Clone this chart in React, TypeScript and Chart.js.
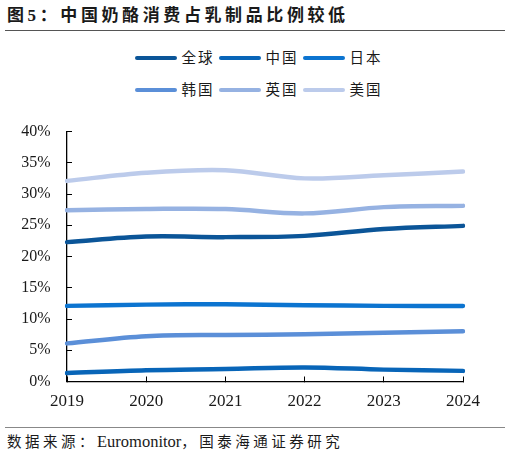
import React, { useEffect, useRef } from "react";
import Chart from "chart.js/auto";

const years = ["2019", "2020", "2021", "2022", "2023", "2024"];
const seriesNames = ["全球", "中国", "日本", "韩国", "英国", "美国"];
const globalShare = [22.3, 23.2, 23.1, 23.3, 24.4, 24.9];
const chinaShare = [1.35, 1.8, 2.0, 2.25, 1.9, 1.7];
const japanShare = [12.1, 12.3, 12.35, 12.2, 12.1, 12.1];
const koreaShare = [6.1, 7.25, 7.45, 7.55, 7.8, 8.05];
const ukShare = [27.4, 27.6, 27.6, 26.9, 27.9, 28.1];
const usShare = [32.1, 33.4, 33.8, 32.5, 33.0, 33.6];
const seriesColors = ["#0b5598", "#0865b8", "#0c74d0", "#5b8fd8", "#96b2e2", "#bccbeb"];
const yTickValues = [0, 5, 10, 15, 20, 25, 30, 35, 40];

const allSeries = [globalShare, chinaShare, japanShare, koreaShare, ukShare, usShare];

const serif = '"Liberation Serif", "Times New Roman", serif';
const cjk = '"Liberation Serif", "Noto Sans CJK SC", sans-serif';

function ShareChart() {
  const canvasRef = useRef<HTMLCanvasElement | null>(null);

  useEffect(() => {
    if (!canvasRef.current) return;
    const chart = new Chart(canvasRef.current, {
      type: "line",
      data: {
        labels: years,
        datasets: allSeries.map((values, i) => ({
          label: seriesNames[i],
          data: values,
          borderColor: seriesColors[i],
          backgroundColor: seriesColors[i],
          borderWidth: 4.5,
          pointRadius: 0,
          tension: 0.35,
          borderCapStyle: "round" as const,
        })),
      },
      options: {
        responsive: true,
        maintainAspectRatio: false,
        animation: false,
        layout: { padding: { top: 21.5, right: 47, left: 0, bottom: 0 } },
        plugins: {
          legend: { display: false },
          tooltip: { enabled: false },
        },
        scales: {
          x: {
            offset: false,
            grid: {
              drawOnChartArea: false,
              tickLength: -5,
              color: "#000",
              lineWidth: 1,
            },
            border: { color: "#000", width: 1.3 },
            ticks: {
              padding: 15,
              color: "#1a1a1a",
              font: { family: serif, size: 17 },
              maxRotation: 0,
            },
            afterFit: (scale) => {
              scale.height = 33.5;
            },
          },
          y: {
            min: 0,
            max: 40,
            afterBuildTicks: (scale) => {
              scale.ticks = yTickValues.map((value) => ({ value }));
            },
            grid: {
              drawOnChartArea: false,
              tickLength: -5,
              color: "#000",
              lineWidth: 1,
            },
            border: { color: "#000", width: 1.3 },
            ticks: {
              padding: 21.5,
              color: "#1a1a1a",
              font: { family: serif, size: 16 },
              callback: (value) => `${value}%`,
            },
            afterFit: (scale) => {
              // tick padding would otherwise push the plot area down
              scale.width = 67;
              scale.paddingTop = 0;
              scale.paddingBottom = 0;
            },
          },
        },
      },
    });

    return () => {
      chart.destroy();
    };
  }, []);

  return (
    <div style={{ position: "absolute", left: 0, top: 110, width: 510, height: 305 }}>
      <canvas ref={canvasRef} />
    </div>
  );
}

export default function App() {
  const legendRows = [seriesNames.slice(0, 3), seriesNames.slice(3)];

  return (
    <div
      style={{
        position: "absolute",
        left: 0,
        top: 0,
        width: 510,
        height: 454,
        background: "#fff",
        fontFamily: cjk,
        color: "#1a1a1a",
      }}
    >
      <div
        style={{
          position: "absolute",
          left: 7,
          top: 5,
          fontSize: 17,
          lineHeight: "22px",
          fontWeight: "bold",
          letterSpacing: 3.6,
          whiteSpace: "nowrap",
        }}
      >
        图5：中国奶酪消费占乳制品比例较低
      </div>
      <div style={{ position: "absolute", left: 5, top: 30, width: 500, height: 1, background: "#555" }} />

      <div
        style={{
          position: "absolute",
          left: 3,
          top: 48,
          width: 510,
          display: "flex",
          flexDirection: "column",
          alignItems: "center",
          rowGap: 12,
        }}
      >
        {legendRows.map((row, r) => (
          <div key={r} style={{ display: "flex", columnGap: 5, height: 20 }}>
            {row.map((name, j) => (
              <div
                key={name}
                style={{ display: "flex", alignItems: "center", width: 79, flexShrink: 0, whiteSpace: "nowrap" }}
              >
                <span
                  style={{
                    display: "inline-block",
                    flexShrink: 0,
                    width: 42,
                    height: 4,
                    borderRadius: 2,
                    background: seriesColors[r * 3 + j],
                    marginRight: 5,
                  }}
                />
                <span style={{ fontSize: 14.5, letterSpacing: 2, lineHeight: "20px", whiteSpace: "nowrap" }}>
                  {name}
                </span>
              </div>
            ))}
          </div>
        ))}
      </div>

      <ShareChart />

      <div style={{ position: "absolute", left: 5, top: 427, width: 500, height: 1, background: "#888" }} />
      <div
        style={{
          position: "absolute",
          left: 7,
          top: 432,
          fontSize: 14.5,
          lineHeight: "20px",
          whiteSpace: "nowrap",
        }}
      >
        <span style={{ letterSpacing: 3.5 }}>数据来源：</span>
        <span style={{ fontFamily: serif, fontSize: 16.5 }}>Euromonitor</span>
        <span style={{ letterSpacing: 3.5 }}>，国泰海通证券研究</span>
      </div>
    </div>
  );
}
